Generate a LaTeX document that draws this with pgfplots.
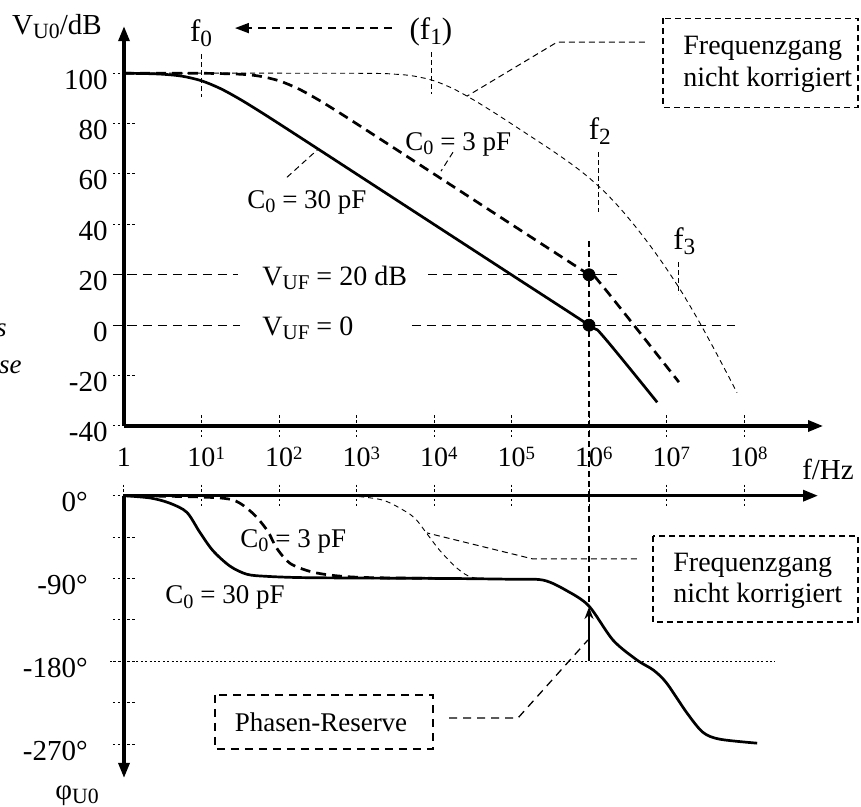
\documentclass[border=0pt]{standalone}
\usepackage{fontspec}
\setmainfont{Liberation Serif}
\usepackage{graphicx}
\usepackage{pgfplots}
\pgfplotsset{compat=1.18}
\usetikzlibrary{arrows.meta}
\newcommand{\sub}[1]{\raisebox{-0.35ex}{\scalebox{0.75}{#1}}}
\newcommand{\sups}[1]{\rlap{\raisebox{0.5ex}{\scalebox{0.67}{#1}}}}
\newcommand{\fA}{\fontsize{13.5}{16}\selectfont}
\newcommand{\fB}{\fontsize{14}{16}\selectfont}
\newcommand{\fC}{\fontsize{15.5}{18}\selectfont}
\newcommand{\fT}{\fontsize{14.5}{17}\selectfont}
\tikzset{
  every node/.append style={inner sep=0pt},
  thindash/.style={line width=0.45pt, dash pattern=on 2.5pt off 2pt},
  fmark/.style={line width=0.5pt, dash pattern=on 2.5pt off 1.5pt},
  guide/.style={line width=0.65pt, dash pattern=on 4.5pt off 3pt},
  leader/.style={line width=0.5pt, dash pattern=on 3pt off 2pt},
  vline/.style={line width=0.55pt, dash pattern=on 3pt off 2pt},
  boxa/.style={line width=0.55pt, dash pattern=on 3pt off 2pt},
  boxb/.style={line width=0.65pt, dash pattern=on 4pt off 3pt},
  solidc/.style={line width=1.35pt},
  dashc/.style={line width=1.35pt, dash pattern=on 5pt off 3pt},
  tri/.style={-{Triangle[length=7.5pt,width=5.5pt]}},
  ylab/.style={anchor=base east, font=\fT, yshift=-8pt},
}
\pgfplotsset{
  common/.style={
    x=38.75pt, enlargelimits=false, clip=false,
    axis line style={line width=1.6pt},
    tick align=center, major tick length=11pt, minor tick length=11pt,
    every tick/.style={line width=0.5pt, dash pattern=on 1.2pt off 1.2pt, black},
  }
}
\begin{document}
\begin{tikzpicture}[font=\fA]
\useasboundingbox (0,0) rectangle (430.5pt,403.5pt);

% ---------------- magnitude ----------------
\begin{axis}[common,
  at={(62pt,190.5pt)}, anchor=south west,
  y=1.26pt,
  xmin=0, xmax=9.02, ymin=-40, ymax=118.65,
  axis x line=bottom, axis y line=left,
  x axis line style={tri}, y axis line style={tri},
  xtick={1,...,8}, xticklabels=\empty,
  ytick={-40,-20,0,20,40,60,80,100},
  yticklabels=\empty,
]
% uncorrected response
\addplot[thindash, smooth] coordinates {
 (0,100) (3,99.96) (3.5,99.59) (3.75,98.81) (4,96.99) (4.25,93.81) (4.5,89.59)
 (4.75,84.87) (5,79.9) (5.5,69.8) (5.8,63.35) (6,58.5) (6.2,52.95) (6.4,46.43)
 (6.6,39.1) (6.8,31.1) (7.0,22.4) (7.2,12.95) (7.4,2.54) (7.6,-8.64) (7.8,-20.27) (7.91,-26.8)};
% C0 = 3 pF
\addplot[dashc, smooth] coordinates {
 (0,100) (1,99.96) (1.5,99.59) (1.75,98.81) (2,96.99) (2.25,93.81) (2.5,89.59)
 (2.75,84.87) (3,79.96) (3.5,70.0) (4,60) (5,40) (6,20) (6.15,16.5) (7.16,-22.6)};
% C0 = 30 pF
\addplot[solidc, smooth] coordinates {
 (0,99.96) (0.25,99.87) (0.5,99.59) (0.75,98.81) (1,96.99) (1.25,93.81) (1.5,89.59)
 (1.75,84.87) (2,79.96) (2.5,70.0) (3,60) (4,40) (5,20) (6,0) (6.18,-4.3) (6.88,-30.6)};
% guide lines
\addplot[guide] coordinates {(-0.142,20) (1.471,20)};
\addplot[guide] coordinates {(3.923,20) (6.361,20)};
\addplot[guide] coordinates {(-0.142,0) (1.497,0)};
\addplot[guide] coordinates {(3.716,0) (7.884,0)};
\addplot[vline] coordinates {(6,33.3) (6,-67.5)};
% frequency markers
\addplot[fmark] coordinates {(1,107.5) (1,90.5)};
\addplot[fmark] coordinates {(3.97,108.3) (3.97,91.7)};
\addplot[fmark] coordinates {(6.12,68.7) (6.12,44.8)};
\addplot[fmark] coordinates {(7.16,25) (7.16,12.3)};
\addplot[line width=0.9pt, dash pattern=on 4pt off 3pt, -{Triangle[length=7pt,width=5pt]}]
  coordinates {(3.458,117.9) (1.432,117.9)};
% crossover points
\addplot[only marks, mark=*, mark size=3pt] coordinates {(6,20) (6,0)};
% y tick labels
\foreach \v in {-40,-20,0,20,40,60,80,100}{
  \edef\temp{\noexpand\node[ylab] at (axis cs:-0.206,\v) {\v};}\temp
}
% annotations
\node[anchor=base, font=\fT] at (axis cs:-0.865,115.5) {V\sub{U0}/dB};
\node[anchor=base, font=\fC] at (axis cs:0.994,112.7) {f\sub{0}};
\node[anchor=base, font=\fC] at (axis cs:3.96,113.5) {(f\sub{1})};
\node[anchor=base, font=\fC] at (axis cs:6.14,73.8) {f\sub{2}};
\node[anchor=base, font=\fC] at (axis cs:7.23,30.2) {f\sub{3}};
\node[anchor=base west] at (axis cs:3.626,69.4) {C\sub{0} = 3 pF};
\node[anchor=base west] at (axis cs:1.587,46.4) {C\sub{0} = 30 pF};
\node[anchor=base west, font=\fB] at (axis cs:1.781,15.9) {V\sub{UF} = 20 dB};
\node[anchor=base west, font=\fB] at (axis cs:1.781,-4.0) {V\sub{UF} = 0};
\node[anchor=base west, font=\fB] at (axis cs:7.213,107.5) {Frequenzgang};
\node[anchor=base west, font=\fB] at (axis cs:7.213,94.8) {nicht korrigiert};
\node[anchor=base east] at (axis cs:-1.51,-4.4) {\itshape s};
\node[anchor=base east] at (axis cs:-1.316,-19.0) {\itshape se};
\draw[boxa] (axis cs:6.955,121.8) rectangle (axis cs:9.471,86.5);
\draw[leader] (axis cs:6.72,112.3) -- (axis cs:5.587,112.3) -- (axis cs:4.426,90.9);
\draw[leader] (axis cs:4.245,68.65) -- (axis cs:4.09,61.1);
\draw[leader] (axis cs:2.103,58.7) -- (axis cs:2.503,69.8);
\end{axis}

% ---------------- phase ----------------
\begin{axis}[common,
  at={(62pt,155.65pt)}, anchor=north west,
  y=0.46pt,
  xmin=0, xmax=8.955, ymin=-306.8, ymax=0,
  axis x line=top, axis y line=left,
  x axis line style={tri}, y axis line style={{Triangle[length=7.5pt,width=5.5pt]}-},
  xtick={0,...,8},
  xticklabels={1,10\sups{1},10\sups{2},10\sups{3},10\sups{4},10\sups{5},10\sups{6},10\sups{7},10\sups{8}},
  xticklabel style={font=\fontsize{14}{16}\selectfont, anchor=base, yshift=9.3pt},
  ytick={-270,-180,-90,0},
  yticklabels={-270°,-180°,-90°,0°},
  minor ytick={-225,-135,-45},
  yticklabel style={font=\fT, anchor=base east, xshift=-12.5pt, yshift=-8pt},
]
% uncorrected phase
\addplot[thindash, smooth] coordinates {
 (2.92,0) (3.34,-4.8) (3.65,-18) (3.78,-27) (3.91,-41.5) (4.08,-60) (4.3,-79) (4.5,-89) (4.85,-90)};
% C0 = 3 pF
\addplot[dashc, smooth] coordinates {
 (0,0) (0.98,-1.4) (1.41,-4.8) (1.66,-19) (1.85,-38) (1.97,-57) (2.14,-73.4)
 (2.4,-82.3) (2.7,-86.7) (3.14,-89) (4.2,-90)};
% C0 = 30 pF
\addplot[solidc, smooth] coordinates {
 (0,0) (0.34,-2.5) (0.59,-8.1) (0.81,-18) (0.98,-40) (1.15,-60) (1.37,-76.7)
 (1.59,-85.5) (1.85,-87.7) (2.27,-89) (3,-89.5) (4.2,-90) (4.98,-90.8) (5.41,-91.8)
 (5.72,-103.6) (6.0,-120) (6.31,-157) (6.62,-178.7) (6.83,-189.5) (7.0,-203.5)
 (7.26,-235.7) (7.47,-257.2) (7.69,-264.7) (8.17,-269)};
\addplot[line width=0.5pt, dash pattern=on 1pt off 1.2pt] coordinates {(-0.18,-180) (8.4,-180)};
\addplot[vline] coordinates {(6,0) (6,-120)};
\addplot[line width=1pt, -{Stealth[length=6pt,width=4.5pt]}] coordinates {(6,-180) (6,-121)};
% annotations
\node[anchor=base, font=\fT] at (axis cs:9.084,17.1) {f/Hz};
\node[anchor=base west, font=\fT] at (axis cs:-0.89,-329.7) {φ\sub{U0}};
\node[anchor=base west] at (axis cs:1.497,-55.8) {C\sub{0} = 3 pF};
\node[anchor=base west] at (axis cs:0.529,-117.7) {C\sub{0} = 30 pF};
\node[anchor=base west, font=\fB] at (axis cs:7.084,-82.9) {Frequenzgang};
\node[anchor=base west, font=\fB] at (axis cs:7.084,-116.6) {nicht korrigiert};
\draw[boxa] (axis cs:6.826,-43.8) rectangle (axis cs:9.471,-137.3);
\draw[leader] (axis cs:6.619,-68.8) -- (axis cs:5.277,-68.8) -- (axis cs:3.91,-40.5);
\node[anchor=base] at (axis cs:2.542,-255.8) {Phasen-Reserve};
\draw[boxb] (axis cs:1.174,-216.6) rectangle (axis cs:3.987,-275.3);
\draw[boxb] (axis cs:4.194,-241.6) -- (axis cs:5.084,-241.6) -- (axis cs:5.987,-156.8);
\end{axis}
\end{tikzpicture}
\end{document}
